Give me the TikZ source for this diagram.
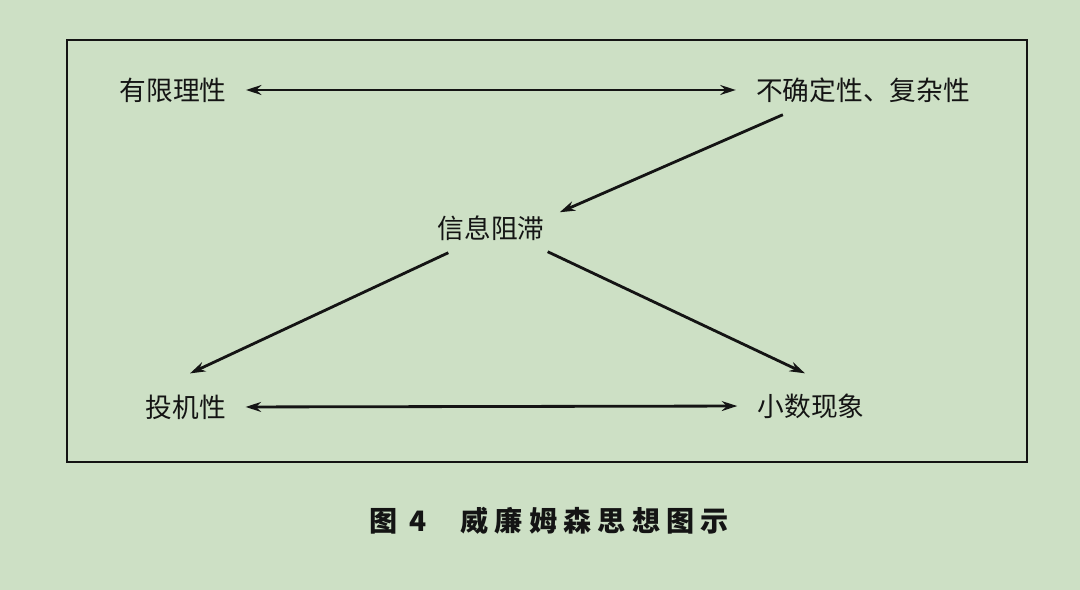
\documentclass[tikz,border=0pt]{standalone}
\usepackage{fontspec}
\setmainfont{Noto Sans CJK SC}
\usepackage{xcolor}
\usetikzlibrary{positioning,arrows.meta,calc}
\definecolor{paper}{RGB}{205,224,197}
\definecolor{ink}{RGB}{20,20,20}
\tikzset{
  lbl/.style={inner sep=0pt, text=ink, font=\fontsize{19}{22}\selectfont},
  captxt/.style={inner sep=0pt, text=ink, font=\fontsize{20}{24}\selectfont\bfseries\addfontfeature{LetterSpace=22}},
  frame/.style={draw=ink, line width=2pt},
  ar/.style={draw=ink, line width=2pt, -{Stealth[length=11pt,width=7pt]}},
  dar/.style={ar, {Stealth[length=11pt,width=7pt]}-{Stealth[length=11pt,width=7pt]}, shorten <=0.48cm, shorten >=0.5cm},
  chart/.style={x=0.025cm, y=-0.025cm}
}
\begin{document}
\begin{tikzpicture}[chart]
  % Background and frame
  \fill[paper] (0,0) rectangle (1080,590);
  \useasboundingbox (0,0) rectangle (1080,590);
  \draw[frame] (67,40) rectangle (1027,462);

  % Top row
  \node[lbl] (bound) at (173,90) {有限理性};
  \node[lbl] (unc) at (863,90) {不确定性、复杂性};

  % Middle
  \node[lbl] (info) at (491,228) {信息阻滞};

  % Bottom row
  \node[lbl] (spec) at (186,407) {投机性};
  \node[lbl] (small) at (811,406) {小数现象};

  % Double arrows
  \draw[dar] (bound.east) -- (unc.west);
  \draw[dar] (spec.east) -- (small.west);

  % Diagonal arrows
  \draw[ar] ($(unc.south west)+(27,12)$) -- ($(info.north east)+(15,-3)$);
  \draw[ar] ($(info.south west)+(11,12)$) -- ($(spec.north)+(4,-21)$);
  \draw[ar] ($(info.south east)+(3,11)$) -- ($(small.north)+(-6,-20)$);

  % Caption below the frame
  \node[captxt] (title) at (549,521) {图 4\hspace{1.2em}威廉姆森思想图示};
\end{tikzpicture}
\end{document}
